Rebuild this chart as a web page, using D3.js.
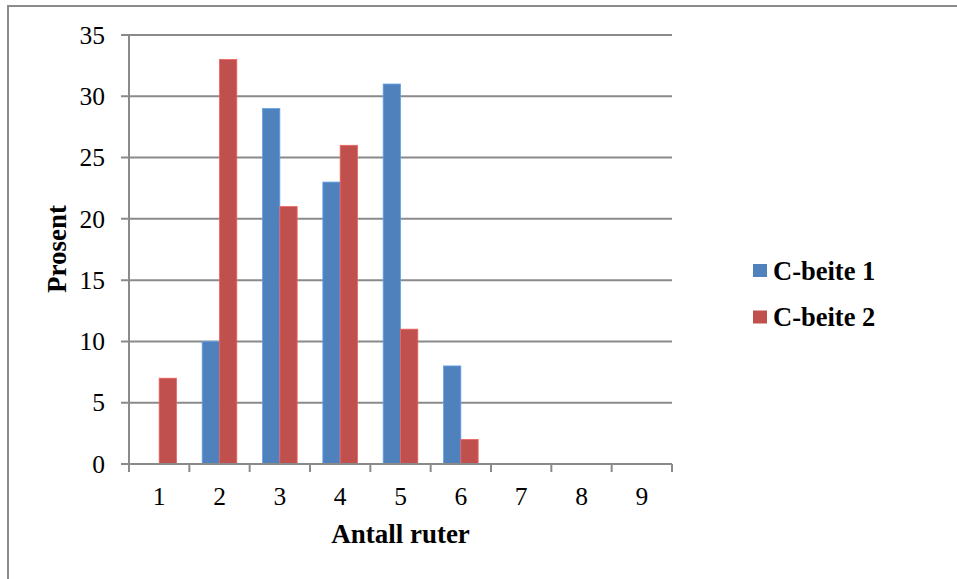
<!DOCTYPE html>
<html><head><meta charset="utf-8">
<script src="https://cdn.jsdelivr.net/npm/d3@7"></script>
<style>html,body{margin:0;padding:0;background:#fff;}svg{display:block;}</style>
</head><body>
<script>
const categories = ["1","2","3","4","5","6","7","8","9"];
const seriesNames = ["C-beite 1","C-beite 2"];
const cbeite1 = [0,10,29,23,31,8,0,0,0];
const cbeite2 = [7,33,21,26,11,2,0,0,0];
const yTicks = [0,5,10,15,20,25,30,35];
const colors = ["#4F81BD","#C0504D"];

(function(){
const W = 957, H = 579;
const svg = d3.select("body").append("svg").attr("width", W).attr("height", H);
svg.append("rect").attr("x",8).attr("y",6).attr("width",W+10).attr("height",H+10)
  .attr("fill","#fff").attr("stroke","#8c8c8c").attr("stroke-width",2);

const pL = 129, pR = 672, pT = 35, pB = 464;
const x = d3.scaleBand().domain(categories).range([pL,pR]).padding(0);
const bw = x.bandwidth();
const xs = d3.scaleBand().domain(seriesNames).range([bw*0.213, bw*0.787]).padding(0);
const y = d3.scaleLinear().domain([0,35]).range([pB, pT]);

const font = "'Liberation Serif','Times New Roman',serif";
const grid = "#8a8a8a";

svg.append("g").selectAll("line").data(yTicks).join("line")
  .attr("x1", pL-8).attr("x2", pR).attr("y1", d=>y(d)).attr("y2", d=>y(d))
  .attr("stroke", grid).attr("stroke-width", 2);
svg.append("g").selectAll("text").data(yTicks).join("text")
  .attr("x", 105).attr("y", d=>y(d)).attr("dy","0.34em").attr("text-anchor","end")
  .attr("font-family", font).attr("font-size", 25.5).attr("fill","#000").text(d=>d);

const data = [cbeite1, cbeite2];
data.forEach((vals, si) => {
  svg.append("g").selectAll("rect").data(vals).join("rect")
    .attr("x", (d,i)=>x(categories[i]) + xs(seriesNames[si]))
    .attr("width", xs.bandwidth())
    .attr("y", d=>y(d)).attr("height", d=>y(0)-y(d))
    .attr("fill", colors[si])
    .attr("stroke", d3.color(colors[si]).brighter(0.6)).attr("stroke-width", 0.8);
});

svg.append("line").attr("x1",pL).attr("x2",pL).attr("y1",pT).attr("y2",pB)
  .attr("stroke",grid).attr("stroke-width",2);
svg.append("line").attr("x1",pL).attr("x2",pR).attr("y1",pB).attr("y2",pB)
  .attr("stroke",grid).attr("stroke-width",2);
const xTickPos = categories.map(c=>x(c)).concat([pR]);
svg.append("g").selectAll("line").data(xTickPos).join("line")
  .attr("x1",d=>d).attr("x2",d=>d).attr("y1",pB).attr("y2",pB+8)
  .attr("stroke",grid).attr("stroke-width",2);
svg.append("g").selectAll("text").data(categories).join("text")
  .attr("x", d=>x(d)+bw/2).attr("y", 505).attr("text-anchor","middle")
  .attr("font-family", font).attr("font-size", 25.5).attr("fill","#000").text(d=>d);

svg.append("text").attr("x", (pL+pR)/2).attr("y", 543).attr("text-anchor","middle")
  .attr("font-family", font).attr("font-size", 27).attr("font-weight","bold").text("Antall ruter");
svg.append("text").attr("transform","translate(66,249) rotate(-90)").attr("text-anchor","middle")
  .attr("font-family", font).attr("font-size", 27).attr("font-weight","bold").text("Prosent");

const lg = svg.append("g").selectAll("g").data(seriesNames).join("g")
  .attr("transform",(d,i)=>`translate(753,${264 + i*46.5})`);
lg.append("rect").attr("width",14).attr("height",13).attr("fill",(d,i)=>colors[i]);
lg.append("text").attr("x",20).attr("y",15.5).attr("font-family",font).attr("font-size",26.5)
  .attr("font-weight","bold").text(d=>d);
})();
</script>
</body></html>
